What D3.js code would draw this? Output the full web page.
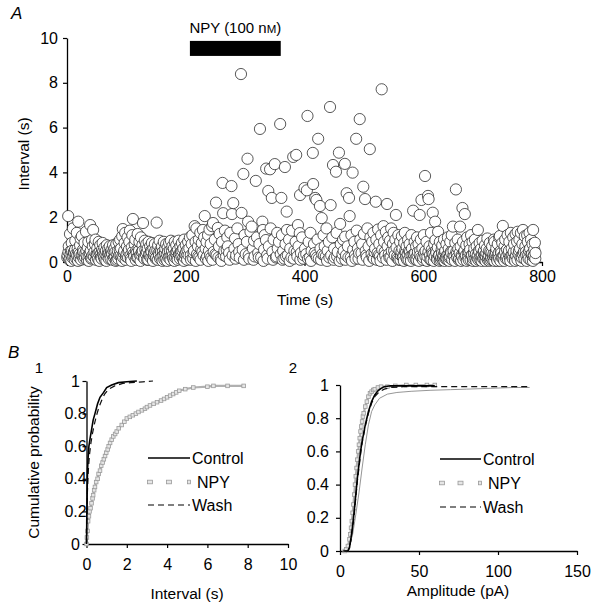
<!DOCTYPE html>
<html><head><meta charset="utf-8">
<script src="https://cdn.jsdelivr.net/npm/d3@7"></script>
<style>
body{margin:0;background:#fff}
svg{display:block}
text{font-family:"Liberation Sans",Arial,sans-serif;fill:#000}
</style>
</head><body>
<svg id="c" width="601" height="611"></svg>
<script>
// ---------- Panel A data ----------
const timeTicks = [0, 200, 400, 600, 800];
const intervalTicks = [0, 2, 4, 6, 8, 10];
const npyPeriod = [207, 360];
const npyBarLevel = [9.2, 9.87];

const baselineEvents = [[1,0.3],[2,2.05],[3,0.7],[4.5,0.15],[5,1.25],[6.5,0.5],[8,0.85],[9,0.2],[10,1.5],[11.5,0.45],[13,0.1],[14,0.95],[15,0.35],[16.5,1.3],[18,0.6],[19,1.8],[20.5,0.2],[22,0.75],[23,1.05],[24.5,0.3],[25,1.16],[27,0.55],[28,0.15],[29.5,0.85],[31,0.4],[32,1.35],[33.5,0.1],[35,0.65],[36,0.9],[37.5,0.3],[39,1.65],[40,0.5],[41.5,0.2],[42,0.98],[43.5,0.7],[44,1.43],[45.5,0.25],[47,0.8],[48,1.0],[49.5,0.35],[51,0.6],[52,0.15],[53.5,0.9],[55,0.45],[56,0.75],[57.5,0.2],[59,0.55],[60,0.85],[61.5,0.3],[63,0.65],[64,0.1],[65.5,0.5],[67,0.75],[68,0.25],[69.5,0.6],[71,0.4],[72,0.7],[73.5,0.15],[75,0.55],[76,0.35],[77.5,0.75],[79,0.2],[80,0.6],[81.5,0.45],[83,0.8],[84,0.1],[85.5,0.5],[87,0.9],[88,0.3],[89.5,1.0],[91,0.6],[92,0.2],[93,1.15],[94,1.47],[95.5,0.4],[97,0.85],[98,1.3],[99.5,0.25],[101,0.7],[102,1.1],[103.5,0.45],[105,0.9],[106,1.4],[107.5,0.15],[109,0.65],[110,1.2],[111,1.92],[112.5,0.35],[114,0.8],[115,1.0],[116.5,0.5],[118,0.2],[119,1.25],[120.5,0.6],[122,0.9],[123,0.3],[124.5,1.1],[126,0.45],[127,0.75],[128,1.74],[129.5,0.2],[131,0.95],[132,0.55],[133.5,0.8],[135,0.1],[136,0.6],[137.5,0.9],[139,0.35],[140,0.7],[141.5,0.5],[143,0.85],[144,0.2],[145.5,0.6],[147,0.4],[148,0.8],[149.5,0.15],[151,1.76],[152,0.5],[153.5,0.75],[155,0.3],[156,0.95],[157.5,0.55],[159,0.2],[160,0.7],[161.5,0.45],[163,0.9],[164,0.1],[165.5,0.6],[167,0.8],[168,0.35],[169.5,0.65],[171,0.2],[172,0.85],[173.5,0.5],[175,0.95],[176,0.3],[177.5,0.7],[179,0.15],[180,0.6],[181.5,0.9],[183,0.4],[184,0.75],[185.5,0.2],[187,0.55],[188,0.95],[189.5,0.3],[191,0.7],[192,0.45],[193.5,0.85],[195,0.15],[196,0.6],[197.5,1.0],[199,0.35],[200,0.75],[201.5,0.25],[203,0.55],[204,0.9]];

const npyEvents = [[206,0.6],[207,1.1],[208.5,0.3],[210,0.8],[211,1.2],[212.5,0.15],[214,0.5],[215,1.6],[216.5,0.9],[218,1.5],[219,0.35],[220.5,0.7],[222,1.0],[223,0.2],[224.5,1.3],[226,0.55],[227,0.85],[229,1.43],[230,0.3],[231,1.1],[232,2.05],[233.5,0.6],[235,0.9],[236,0.25],[237.5,1.2],[239,0.5],[240,1.45],[242,0.8],[243,0.2],[244.5,1.6],[246,1.74],[247,0.45],[249,1.0],[251,2.65],[252,0.3],[254,1.52],[256,0.7],[257,1.25],[259,0.15],[261,0.9],[262,3.53],[263,2.18],[265,0.5],[266,1.4],[268,0.25],[270,1.1],[271,0.7],[273,0.4],[275,1.3],[277,3.39],[278,2.14],[280,2.63],[282,0.6],[283,1.05],[285,0.3],[287,1.5],[289,0.8],[291,0.2],[293,8.39],[294,2.19],[296,0.55],[297,3.93],[299,1.2],[301,0.35],[303,0.9],[304,4.61],[305,1.8],[307,0.15],[309,1.35],[311,1.58],[313,0.6],[315,0.95],[316,0.25],[318,3.62],[320,1.1],[322,0.4],[324,0.8],[325,5.94],[327,0.2],[329,1.8],[330,1.43],[332,0.55],[333,1.2],[335,0.98],[335.5,4.17],[337,0.3],[339,3.17],[340,0.7],[342,4.14],[343,1.5],[345,2.86],[346,0.45],[348,1.0],[350,4.37],[352,0.2],[354,1.3],[355,0.6],[357,0.9],[359,6.16],[360,0.35]];

const washEvents = [[361,2.86],[362,1.2],[364,0.5],[366,0.15],[367,4.24],[368,0.8],[370,2.25],[370.5,1.43],[372,0.3],[374,1.0],[376,0.6],[378,0.2],[379,1.4],[381,4.69],[383,0.5],[385,0.9],[386,4.78],[388,0.25],[389,1.65],[390,0.7],[392,1.29],[392.5,2.99],[394,0.4],[396,1.1],[398,0.15],[400,3.3],[401,0.6],[403,0.35],[404,3.2],[405,6.52],[407,0.9],[409,0.2],[410,1.3],[412,0.5],[414,4.87],[414.5,3.48],[416,0.8],[418,2.86],[419,0.3],[420,2.77],[422,1.0],[423,5.5],[424,0.15],[426,2.5],[427,0.6],[429,1.96],[430,0.35],[432,1.2],[434,0.7],[436,0.25],[437,1.5],[439,0.5],[441,0.9],[443,6.92],[444,2.54],[445,0.3],[447,1.1],[448,4.33],[450,0.6],[451,0.2],[453,4.03],[454,1.3],[456,0.45],[458,4.88],[460,1.7],[461,0.8],[463,0.15],[465,1.0],[466,0.5],[468,4.38],[468.5,1.13],[470,0.3],[471,3.07],[473,0.7],[475,2.86],[476,2.05],[478,0.2],[479,1.2],[481,3.99],[482,0.55],[484,0.9],[485,0.3],[487,5.5],[488,1.4],[490,0.6],[491,0.15],[493,6.38],[494,1.0],[496,0.4],[497,0.8],[499,3.36],[500,1.25],[502,2.81],[503,0.5],[505,0.2],[506,1.5],[508,0.7],[510,5.04],[511,1.1],[513,0.35],[514,0.9],[516,1.3],[517,0.15],[519,0.6],[520,2.69],[521,1.0],[523,0.4],[524,1.45],[526,0.8],[527,0.25],[529,1.2],[530,7.71],[531,0.55],[533,1.6],[534,0.9],[536,0.3],[537,1.35],[539,2.59],[540,0.7],[541,1.1],[543,0.2],[544,0.95],[546,1.5],[547,0.5],[549,0.8],[550,1.3],[552,0.3],[553,1.0],[554,2.1],[555,0.65],[557,0.15],[558,1.2],[560,0.5],[561,0.9],[562.5,0.3],[564,1.15],[565,0.6],[566.5,0.2],[568,0.85],[569,1.3],[570.5,0.4],[572,0.7],[573,0.1],[574.5,1.0],[576,0.5],[577,0.8],[578.5,0.25],[580,1.2],[581,0.6],[583,2.29],[584,0.35],[585.5,0.9],[587,0.15],[588,0.7],[589.5,1.1],[591,0.45],[592,0.8],[594,2.1],[595,0.3],[596,1.0],[597,2.77],[598.5,0.6],[600,0.2],[601,1.2],[603,3.84],[604,0.5],[605.5,0.9],[607,0.25],[608,2.95],[609,2.81],[610.5,0.7],[612,0.1],[613,1.3],[614.5,0.55],[616,2.2],[617,0.35],[618.5,0.8],[620,1.8],[620.5,0.98],[622,0.4],[623,0.15],[624.5,0.65],[625,1.35],[627,0.3],[628,0.9],[629.5,0.1],[631,0.55],[632,0.75],[633.5,0.2],[635,1.0],[636,0.45],[637.5,0.15],[639,0.8],[640,0.3],[641.5,1.1],[643,0.6],[644,0.2],[645.5,0.9],[647,0.4],[648,1.2],[650,1.58],[651,0.5],[652.5,0.25],[654,0.85],[655,3.24],[656.5,0.35],[658,1.0],[659,0.6],[660.5,0.15],[662,1.58],[663,0.7],[664.5,0.3],[666,2.41],[667,0.9],[668.5,0.45],[670,2.14],[671,0.2],[672.5,0.75],[674,1.1],[675,0.4],[676.5,0.1],[678,0.8],[679,0.55],[680.5,1.2],[682,0.3],[683,0.9],[684.5,0.15],[686,0.6],[687,1.0],[688.5,0.35],[690,0.7],[691,0.2],[692,1.43],[693.5,0.5],[695,0.85],[696,0.1],[697.5,0.6],[699,0.3],[700,0.95],[701.5,0.45],[703,0.15],[704,0.75],[705.5,0.25],[707,0.6],[708,1.05],[709.5,0.2],[711,0.5],[712,0.85],[713.5,0.1],[715,0.4],[716,0.7],[717.5,0.25],[719,1.0],[720,0.9],[721.5,0.35],[723,0.6],[724,0.15],[725.5,0.8],[727,0.4],[728,1.1],[729,1.16],[730.5,0.5],[732,0.2],[733,0.85],[734,1.61],[735.5,0.3],[737,0.7],[738,1.0],[739.5,0.15],[741,0.55],[742,1.2],[743.5,0.4],[745,0.9],[746,0.2],[747.5,1.3],[749,0.6],[750,0.3],[751.5,1.1],[753,0.8],[754,0.15],[755.5,1.25],[757,0.5],[758,0.9],[759,1.35],[760.5,0.35],[762,1.0],[763,0.6],[764.5,1.3],[766,0.2],[767,0.8],[768,1.43],[769.5,0.45],[771,1.15],[772,0.7],[773.5,0.3],[775,1.2],[776,0.9],[777.5,0.15],[779,1.3],[780,0.6],[781.5,1.0],[783,0.35],[784,0.8],[785,1.43],[785.5,0.24],[787,0.55],[788,0.86],[789,0.4]];

// short intervals hidden in the dense band at the bottom
const lowBandEvents = [[0.5,0.2],[2.5,0.45],[3.8,0.1],[5.8,0.35],[7.2,0.05],[8.5,0.5],[10.8,0.25],[12.2,0.4],[13.6,0.55],[15.7,0.15],[17.2,0.3],[18.6,0.05],[19.8,0.45],[21.3,0.35],[23.7,0.1],[26.2,0.3],[27.6,0.45],[30.3,0.2],[32.7,0.5],[34.2,0.25],[36.8,0.05],[38.3,0.4],[40.7,0.15],[43,0.3],[46.2,0.45],[48.7,0.1],[50.3,0.3],[52.8,0.4],[54.3,0.05],[56.8,0.35],[58.3,0.15],[60.7,0.45],[62.3,0.2],[64.7,0.35],[66.3,0.05],[68.8,0.4],[70.3,0.15],[72.8,0.3],[74.3,0.45],[76.8,0.1],[78.3,0.5],[80.8,0.25],[82.3,0.05],[84.7,0.35],[86.3,0.15],[88.8,0.55],[90.3,0.3],[92.7,0.05],[94.7,0.2],[96.3,0.5],[98.7,0.1],[100.3,0.35],[102.8,0.2],[104.3,0.55],[106.8,0.3],[108.3,0.05],[110.6,0.45],[113.2,0.25],[115.8,0.1],[117.3,0.4],[119.8,0.2],[121.3,0.5],[123.8,0.05],[125.3,0.3],[127.7,0.5],[130.3,0.15],[132.8,0.35],[134.3,0.45],[136.8,0.1],[138.3,0.3],[140.8,0.2],[142.3,0.45],[144.8,0.05],[146.3,0.3],[148.8,0.5],[150.3,0.2],[152.8,0.1],[154.3,0.4],[156.8,0.15],[158.3,0.45],[160.8,0.05],[162.3,0.3],[164.8,0.4],[166.3,0.15],[168.8,0.05],[170.3,0.45],[172.8,0.25],[174.3,0.1],[176.8,0.5],[178.3,0.3],[180.8,0.05],[182.3,0.2],[184.8,0.45],[186.3,0.1],[188.8,0.35],[190.3,0.15],[192.8,0.25],[194.3,0.5],[196.8,0.05],[198.3,0.2],[200.8,0.45],[202.3,0.1],[204.8,0.3],
[209,0.1],[213,0.4],[217,0.05],[221,0.25],[225,0.1],[228,0.45],[234,0.15],[238,0.05],[241,0.3],[245,0.1],[250,0.35],[255,0.2],[260,0.05],[264,0.3],[269,0.55],[274,0.1],[279,0.3],[284,0.15],[290,0.45],[298,0.1],[306,0.3],[314,0.1],[323,0.2],[331,0.05],[338,0.15],[347,0.1],[353,0.25],
[363,0.1],[369,0.25],[375,0.05],[382,0.15],[387,0.45],[393,0.1],[399,0.3],[406,0.15],[411,0.05],[417,0.4],[421,0.2],[428,0.1],[433,0.3],[438,0.05],[442,0.2],[449,0.1],[455,0.25],[459,0.05],[464,0.35],[469,0.1],[474,0.2],[480,0.05],[486,0.15],[492,0.4],[498,0.1],[504,0.3],[509,0.05],[515,0.2],[518,0.45],[522,0.1],[525,0.3],[528,0.05],[532,0.2],[535,0.45],[538,0.1],[542,0.35],[545,0.2],[548,0.05],[551,0.5],[556,0.25],[559,0.1],
[561.7,0.1],[563.3,0.45],[565.7,0.25],[567.3,0.05],[569.7,0.5],[571.3,0.2],[573.7,0.35],[575.3,0.1],[577.7,0.45],[579.3,0.05],[581.7,0.3],[583.7,0.15],[586.3,0.4],[588.7,0.1],[590.3,0.3],[592.7,0.05],[594.7,0.5],[596.7,0.2],[599.3,0.1],[601.7,0.4],[603.7,0.25],[606.3,0.05],[608.7,0.45],[611.3,0.3],[613.7,0.1],[615.3,0.4],[617.7,0.05],[619.3,0.25],[621.3,0.5],[623.7,0.1],[626.3,0.3],[627.7,0.05],[630.3,0.2],[631.7,0.4],[632.7,0.1],[634.3,0.3],[635.7,0.05],[637,0.5],[638.3,0.2],[640.7,0.1],[642.3,0.35],[643.7,0.05],[645,0.25],[646.3,0.45],[648.7,0.1],[650.7,0.3],[653.3,0.05],[655.7,0.45],[657.3,0.2],[659.7,0.1],[661.3,0.4],[663.7,0.05],[665.3,0.25],[667.7,0.1],[669.3,0.5],[671.7,0.3],[673.3,0.05],[675.7,0.2],[677.3,0.45],[679.7,0.1],[681.3,0.3],[683.7,0.05],[685.3,0.4],[687.7,0.15],[689.3,0.05],[691.7,0.3],[693,0.1],[694.3,0.45],[696.7,0.25],[698.3,0.05],[700.7,0.15],[702.3,0.5],[703.7,0.3],[705,0.05],[706.3,0.4],[708.7,0.1],[710.3,0.3],[711.7,0.05],[713,0.45],[714.3,0.2],[716.7,0.1],[718.3,0.35],[719.7,0.05],[721,0.25],[722.3,0.45],[724.7,0.05],[726.3,0.3],[727.7,0.15],[730,0.05],[731.3,0.4],[733.7,0.2],[736.3,0.05],[737.7,0.45],[740.3,0.25],[742.7,0.1],[744.3,0.5],[746.7,0.05],[748.3,0.3],[750.7,0.15],[752.3,0.45],[754.7,0.05],[756.3,0.3],[758.7,0.1],[761.3,0.5],[763.7,0.2],[765.3,0.05],[767.7,0.35],[770.3,0.15],[772.7,0.45],[774.3,0.05],[776.7,0.3],[778.3,0.5],[780.7,0.1],[782.3,0.35],[784.7,0.05],[786.3,0.3],[788.7,0.15]];

// ---------- Panel B1 (interval CDF) ----------
const cdfIntervalTicks = [0, 2, 4, 6, 8, 10];
const probTicks = [0, 0.2, 0.4, 0.6, 0.8, 1];
const intControlX = [0,0.01,0.03,0.05,0.08,0.12,0.18,0.25,0.33,0.42,0.55,0.67,0.85,1.0,1.25,1.58,2.0,2.5];
const intControlY = [0,0.1,0.3,0.45,0.53,0.6,0.65,0.7,0.76,0.8,0.86,0.9,0.93,0.96,0.975,0.99,0.995,1.0];
const intWashX = [0,0.02,0.04,0.07,0.1,0.15,0.22,0.3,0.4,0.5,0.62,0.75,0.9,1.1,1.4,1.8,2.2,2.8,3.3];
const intWashY = [0,0.15,0.3,0.4,0.47,0.55,0.62,0.68,0.74,0.79,0.84,0.88,0.92,0.95,0.97,0.985,0.99,0.995,1.0];
const intNpyX = [0,0.02,0.05,0.08,0.12,0.15,0.2,0.25,0.3,0.33,0.38,0.42,0.48,0.55,0.6,0.67,0.73,0.8,0.86,0.92,0.98,1.05,1.1,1.17,1.25,1.33,1.42,1.5,1.6,1.75,1.88,2.0,2.15,2.3,2.45,2.58,2.75,2.9,3.0,3.15,3.33,3.5,3.7,3.85,4.0,4.15,4.3,4.45,4.6,4.9,5.3,6.0,6.3,7.0,7.8];
const intNpyY = [0,0.04,0.08,0.14,0.17,0.2,0.22,0.25,0.28,0.3,0.33,0.35,0.38,0.4,0.43,0.45,0.48,0.5,0.52,0.54,0.56,0.58,0.6,0.62,0.64,0.66,0.675,0.69,0.71,0.73,0.75,0.77,0.78,0.79,0.8,0.81,0.82,0.83,0.84,0.85,0.86,0.87,0.88,0.89,0.9,0.91,0.92,0.93,0.94,0.95,0.96,0.965,0.97,0.97,0.97];

// ---------- Panel B2 (amplitude CDF) ----------
const ampTicks = [0, 50, 100, 150];
const ampControlX = [2,5,6,7,8,9,10,11,12,13,14,15,16,17,18,20,22,24,26,28,32,40,50,60];
const ampControlY = [0,0,0.02,0.08,0.15,0.24,0.34,0.44,0.52,0.6,0.66,0.71,0.76,0.8,0.84,0.9,0.94,0.965,0.98,0.99,0.995,0.995,0.995,0.995];
const ampWashX = [3,5,6,7,8,9,10,11,12,13,14,15,16,17,18,20,22,25,28,32,40,60,80,100,120];
const ampWashY = [0,0,0.02,0.07,0.14,0.22,0.32,0.42,0.5,0.58,0.65,0.7,0.75,0.79,0.83,0.89,0.93,0.96,0.975,0.985,0.99,0.99,0.99,0.99,0.99];
const ampNpyX = [3,4,5,6,6.5,7,7.5,8,8.5,9,9.5,10,10.5,11,11.5,12,12.5,13,13.5,14,14.5,15,16,17,18,19,20,21,22,24,26,30,35,42,48,55,60];
const ampNpyY = [0,0.01,0.03,0.07,0.1,0.14,0.18,0.23,0.28,0.34,0.4,0.45,0.5,0.55,0.6,0.64,0.68,0.72,0.75,0.78,0.81,0.83,0.87,0.9,0.93,0.95,0.96,0.97,0.975,0.985,0.99,0.99,0.995,1,1,1,1];
const ampGreyX = [5,8,10,12,14,16,18,20,22,25,30,36,45,57,70,80,95,110,120];
const ampGreyY = [0,0.1,0.22,0.35,0.5,0.64,0.76,0.84,0.88,0.92,0.945,0.955,0.962,0.968,0.972,0.975,0.98,0.985,0.985];

const legendNames = ["Control", "NPY", "Wash"];

// ---------- drawing ----------
const svg = d3.select("#c");
const FS = 16;
const grey = "#9a9a9a";

function styleAxis(g, fs) {
  g.select(".domain").attr("stroke", "#000").attr("stroke-width", 1.3);
  g.selectAll(".tick line").attr("stroke", "#000").attr("stroke-width", 1.2);
  g.selectAll(".tick text").attr("font-size", fs).attr("font-family", '"Liberation Sans",Arial,sans-serif').attr("fill", "#000");
}

// Panel A
const xA = d3.scaleLinear().domain([0, 800]).range([67, 542]);
const yA = d3.scaleLinear().domain([0, 10]).range([262, 38]);

svg.append("text").attr("x", 11).attr("y", 19).attr("font-size", 17).attr("font-style", "italic").text("A");

const gyA = svg.append("g").attr("transform", `translate(${xA(0)},0)`)
  .call(d3.axisLeft(yA).tickValues(intervalTicks).tickSize(4).tickSizeOuter(0).tickPadding(5));
styleAxis(gyA, FS);
const gxA = svg.append("g").attr("transform", `translate(0,${yA(0)})`)
  .call(d3.axisBottom(xA).tickValues(timeTicks).tickSize(4).tickSizeOuter(0).tickPadding(5));
styleAxis(gxA, FS);

svg.append("text").attr("transform", `translate(29,154) rotate(-90)`)
  .attr("text-anchor", "middle").attr("font-size", 15.5).text("Interval (s)");
svg.append("text").attr("x", 305).attr("y", 305).attr("text-anchor", "middle").attr("font-size", 15.5).text("Time (s)");

// NPY bar
svg.append("rect")
  .attr("x", xA(npyPeriod[0])).attr("width", xA(npyPeriod[1]) - xA(npyPeriod[0]))
  .attr("y", yA(npyBarLevel[1])).attr("height", yA(npyBarLevel[0]) - yA(npyBarLevel[1]))
  .attr("fill", "#000");
const lab = svg.append("text").attr("x", (xA(npyPeriod[0]) + xA(npyPeriod[1])) / 2).attr("y", 33)
  .attr("text-anchor", "middle").attr("font-size", 15);
lab.append("tspan").text("NPY (100 n");
lab.append("tspan").attr("font-size", 11.5).text("M");
lab.append("tspan").text(")");

const allEvents = baselineEvents.concat(npyEvents, washEvents, lowBandEvents)
  .sort((a, b) => a[0] - b[0]);
svg.append("g").selectAll("circle").data(allEvents).join("circle")
  .attr("cx", d => xA(d[0])).attr("cy", d => yA(d[1])).attr("r", 5.6)
  .attr("fill", "#fff").attr("stroke", "#222").attr("stroke-width", 0.75);

svg.append("text").attr("x", 8).attr("y", 358).attr("font-size", 17).attr("font-style", "italic").text("B");

// Panel B1
const xB1 = d3.scaleLinear().domain([0, 10]).range([86.5, 288]);
const yB1 = d3.scaleLinear().domain([0, 1]).range([544, 381]);
svg.append("text").attr("x", 39).attr("y", 373).attr("text-anchor", "middle").attr("font-size", 15).text("1");
const gyB1 = svg.append("g").attr("transform", `translate(${xB1(0)},0)`)
  .call(d3.axisLeft(yB1).tickValues(probTicks).tickSize(4).tickSizeOuter(0).tickFormat(d => String(d)));
styleAxis(gyB1, FS);
gyB1.selectAll(".tick text").attr("text-anchor", "middle").attr("x", -11);
const gxB1 = svg.append("g").attr("transform", `translate(0,${yB1(0)})`)
  .call(d3.axisBottom(xB1).tickValues(cdfIntervalTicks).tickSize(4).tickSizeOuter(0).tickPadding(11));
styleAxis(gxB1, FS);
svg.append("text").attr("transform", `translate(39,${yB1(0.5)}) rotate(-90)`)
  .attr("text-anchor", "middle").attr("font-size", 15.5).text("Cumulative probability");
svg.append("text").attr("x", 187).attr("y", 599).attr("text-anchor", "middle").attr("font-size", 15.5).text("Interval (s)");

// Panel B2
const xB2 = d3.scaleLinear().domain([0, 150]).range([340, 577]);
const yB2 = d3.scaleLinear().domain([0, 1]).range([551, 385]);
svg.append("text").attr("x", 293).attr("y", 373).attr("text-anchor", "middle").attr("font-size", 15).text("2");
const gyB2 = svg.append("g").attr("transform", `translate(${xB2(0)},0)`)
  .call(d3.axisLeft(yB2).tickValues(probTicks).tickSize(4).tickSizeOuter(0).tickPadding(7).tickFormat(d => String(d)));
styleAxis(gyB2, FS);
const gxB2 = svg.append("g").attr("transform", `translate(0,${yB2(0)})`)
  .call(d3.axisBottom(xB2).tickValues(ampTicks).tickSize(4).tickSizeOuter(0).tickPadding(11));
styleAxis(gxB2, FS);
svg.append("text").attr("x", 458).attr("y", 596).attr("text-anchor", "middle").attr("font-size", 15.5).text("Amplitude (pA)");

function pairs(xs, ys) { return xs.map((x, i) => [x, ys[i]]); }

function drawCurves(xs, ys, set) {
  const line = d3.line().x(d => xs(d[0])).y(d => ys(d[1]));
  const g = svg.append("g");
  if (set.grey) {
    g.append("path").datum(pairs(set.grey[0], set.grey[1])).attr("d", line)
      .attr("fill", "none").attr("stroke", "#8a8a8a").attr("stroke-width", 0.9);
  }
  const npy = pairs(set.npy[0], set.npy[1]);
  g.append("path").datum(npy).attr("d", line).attr("fill", "none")
    .attr("stroke", "#b0b0b0").attr("stroke-width", 2.2);
  g.selectAll("rect.sq").data(npy).join("rect").attr("class", "sq")
    .attr("x", d => xs(d[0]) - 1.8).attr("y", d => ys(d[1]) - 1.8)
    .attr("width", 3.6).attr("height", 3.6).attr("fill", "#e6e6e6")
    .attr("stroke", grey).attr("stroke-width", 0.8);
  g.append("path").datum(pairs(set.wash[0], set.wash[1])).attr("d", line)
    .attr("fill", "none").attr("stroke", "#111").attr("stroke-width", 1.2).attr("stroke-dasharray", "6,4");
  g.append("path").datum(pairs(set.control[0], set.control[1])).attr("d", line)
    .attr("fill", "none").attr("stroke", "#000").attr("stroke-width", 1.6);
}

drawCurves(xB1, yB1, {
  control: [intControlX, intControlY], wash: [intWashX, intWashY], npy: [intNpyX, intNpyY]
});
drawCurves(xB2, yB2, {
  control: [ampControlX, ampControlY], wash: [ampWashX, ampWashY], npy: [ampNpyX, ampNpyY],
  grey: [ampGreyX, ampGreyY]
});

function legend(x0, x1, textX, ys) {
  const g = svg.append("g");
  legendNames.forEach((name, i) => {
    const y = ys[i];
    if (name === "Control") {
      g.append("line").attr("x1", x0).attr("x2", x1).attr("y1", y).attr("y2", y)
        .attr("stroke", "#000").attr("stroke-width", 1.6);
    } else if (name === "Wash") {
      g.append("line").attr("x1", x0).attr("x2", x1).attr("y1", y).attr("y2", y)
        .attr("stroke", "#000").attr("stroke-width", 1.2).attr("stroke-dasharray", "6,4");
    } else {
      [x0 + 2, x0 + (x1 - x0) * 0.5, x1 - 1].forEach((mx, k) => {
        const w = k === 2 ? 3 : 5;
        g.append("rect").attr("x", mx - w / 2).attr("y", y - 1.8).attr("width", w).attr("height", 3.6)
          .attr("fill", "#e6e6e6").attr("stroke", grey).attr("stroke-width", 0.8);
      });
    }
    g.append("text").attr("x", name === "NPY" ? textX + 5 : textX).attr("y", y + 6)
      .attr("font-size", 16).text(name);
  });
}
legend(148, 190, 192, [458, 482, 505]);
legend(440, 481, 483, [459, 483, 507]);
</script>
</body></html>
